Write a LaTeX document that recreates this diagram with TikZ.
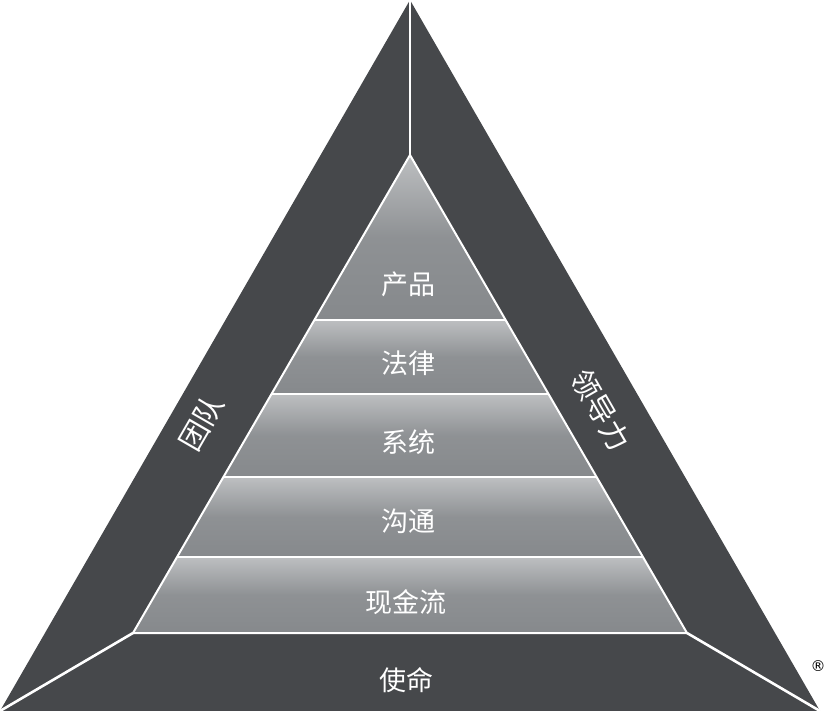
\documentclass[tikz,border=0pt]{standalone}
\usepackage{fontspec}
\newfontfamily\cjk{Noto Sans CJK SC}
\newfontfamily\symfont{DejaVu Sans}
\usetikzlibrary{calc}
\definecolor{pyrdark}{HTML}{46484B}
\definecolor{bandtop}{HTML}{BDBFC1}
\definecolor{bandlow}{HTML}{86898C}
\tikzset{
  lbl/.style={text=white,font=\cjk\fontsize{27}{27}\selectfont,inner sep=0pt},
  sidelbl/.style={lbl,font=\cjk\fontsize{29}{29}\selectfont},
  band/.style={top color=bandtop,bottom color=bandlow,middle color=bandlow!85!bandtop},
  sep/.style={draw=white,line width=2.6pt},
  thinsep/.style={draw=white,line width=2pt,line join=round},
}
\begin{document}
\begin{tikzpicture}[x=1pt,y=-1pt]
  \useasboundingbox (0,0) rectangle (828,711);
  % outer and inner corners
  \coordinate (A) at (410,0);
  \coordinate (L) at (0,711);
  \coordinate (R) at (820,711);
  \coordinate (a) at (410,155);
  \coordinate (l) at (133,633);
  \coordinate (r) at (687,633);
  \fill[pyrdark] (A) -- (L) -- (R) -- cycle;
  % bands of the inner pyramid
  \foreach \p/\q in {0/.345,.345/.5,.5/.674,.674/.841,.841/1}
    \shade[band] ($(a)!\p!(l)$) -- ($(a)!\q!(l)$) -- ($(a)!\q!(r)$) -- ($(a)!\p!(r)$) -- cycle;
  \foreach \q in {.345,.5,.674,.841}
    \draw[thinsep] ($(a)!\q!(l)$) -- ($(a)!\q!(r)$);
  \draw[thinsep] (a) -- (l) -- (r) -- cycle;
  \draw[sep] (A) -- (a);
  \draw[sep] (l) -- (L);
  \draw[sep] (r) -- (R);
  % labels
  \node[lbl] (chanpin) at (408,284) {产品};
  \node[lbl] (falv) at (408,363) {法律};
  \node[lbl] (xitong) at (408,442) {系统};
  \node[lbl] (goutong) at (408,521) {沟通};
  \node[lbl] (xianjin) at (406,602) {现金流};
  \node[lbl] (shiming) at (406,680) {使命};
  \node[sidelbl,rotate=60] (tuandui) at (201,423) {团队};
  \node[sidelbl,rotate=-60] (lingdao) at (601,410) {领导力};
  \node[inner sep=0pt,font=\symfont\fontsize{15}{15}\selectfont] (reg) at (818,666) {®};
\end{tikzpicture}
\end{document}
